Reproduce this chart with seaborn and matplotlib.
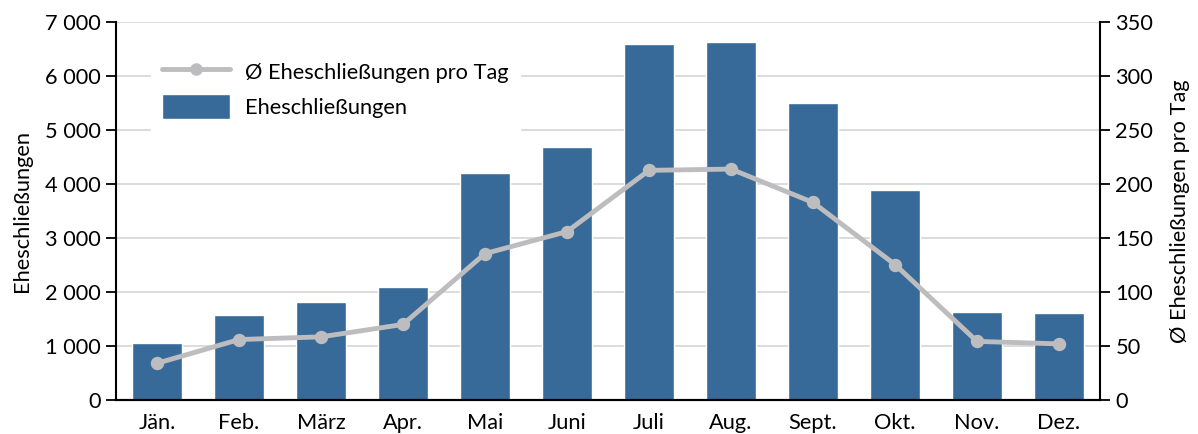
import matplotlib
matplotlib.use('Agg')
import seaborn as sns
from matplotlib import pyplot as plt
from matplotlib.ticker import FuncFormatter, MultipleLocator
from matplotlib.lines import Line2D
from matplotlib.patches import Patch

monate = ['Jän.', 'Feb.', 'März', 'Apr.', 'Mai', 'Juni', 'Juli', 'Aug.', 'Sept.', 'Okt.', 'Nov.', 'Dez.']
eheschliessungen = [1055, 1574, 1815, 2093, 4204, 4685, 6593, 6630, 5500, 3889, 1630, 1611]
pro_tag = [34, 56, 58.5, 70, 135.6, 156, 212.7, 213.9, 183, 125.5, 54.3, 52]

blau = '#376A99'
grau = '#BDBDBF'
fs = 15.7

sns.set_style('white')
plt.rcParams['font.family'] = ['Lato', 'DejaVu Sans']
plt.rcParams['font.size'] = fs
plt.rcParams['text.color'] = 'black'
plt.rcParams['axes.labelcolor'] = 'black'
plt.rcParams['xtick.color'] = 'black'
plt.rcParams['ytick.color'] = 'black'

fig = plt.figure(figsize=(11.98, 4.34), dpi=100)
ax = fig.add_axes([0.0968, 0.0783, 0.8214, 0.8707])

sns.barplot(x=monate, y=eheschliessungen, color=blau, width=0.61, saturation=1, ax=ax, zorder=2)
ax.set_ylim(0, 7000)
ax.set_xlim(-0.5, 11.5)
ax.yaxis.set_major_locator(MultipleLocator(1000))
ax.yaxis.set_major_formatter(FuncFormatter(lambda v, p: f'{v:,.0f}'.replace(',', ' ')))
ax.grid(axis='y', color='#D9D9D9', linewidth=1.3, zorder=0)
ax.set_axisbelow(True)
ax.set_ylabel('Eheschließungen', fontsize=fs, labelpad=9)
ax.set_xlabel('')

ax2 = ax.twinx()
sns.pointplot(x=monate, y=pro_tag, color=grau, markers='o', markersize=7, linewidth=3.5, ax=ax2)
ax2.set_ylim(0, 350)
ax2.set_xlim(-0.5, 11.5)
ax2.yaxis.set_major_locator(MultipleLocator(50))
ax2.set_ylabel('Ø Eheschließungen pro Tag', fontsize=fs, labelpad=12)

for a in (ax, ax2):
    a.spines['top'].set_visible(False)
    for s in ('left', 'right', 'bottom'):
        a.spines[s].set_color('black')
        a.spines[s].set_linewidth(1.5)
    a.tick_params(axis='y', length=7, width=1.3, direction='out', labelsize=fs, pad=4)
    a.tick_params(axis='x', length=0, labelsize=fs, pad=9)
ax.spines['right'].set_visible(False)
ax2.spines['left'].set_visible(False)

fig.canvas.draw()
ax.get_ygridlines()[-1].set_visible(False)

handles = [Line2D([0], [0], color=grau, linewidth=3.5, marker='o', markersize=8),
           Patch(facecolor=blau)]
leg = ax2.legend(handles, ['Ø Eheschließungen pro Tag', 'Eheschließungen'],
                 loc='upper left', bbox_to_anchor=(0.025, 0.96), frameon=True, fancybox=False,
                 framealpha=1, edgecolor='white', facecolor='white', fontsize=fs,
                 handlelength=3.1, handleheight=1.4, borderpad=0.5, labelspacing=0.45, handletextpad=0.7)

fig.savefig('out.png', dpi=100)
